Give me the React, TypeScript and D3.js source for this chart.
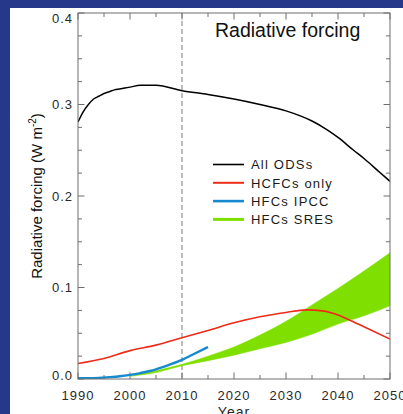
import React from "react";
import * as d3 from "d3";

// values
const odsYears = [1990, 1991, 1992, 1993, 1994, 1995, 1996, 1997, 1998, 2000, 2002, 2004, 2005, 2010, 2015, 2020, 2025, 2030, 2033, 2035, 2038, 2040, 2043, 2045, 2048, 2050];
const odsValues = [0.281, 0.292, 0.3, 0.306, 0.309, 0.312, 0.314, 0.316, 0.317, 0.319, 0.321, 0.321, 0.321, 0.315, 0.311, 0.306, 0.3, 0.293, 0.287, 0.282, 0.272, 0.264, 0.25, 0.241, 0.226, 0.216];

const hcfcYears = [1990, 1995, 2000, 2005, 2010, 2015, 2020, 2025, 2030, 2034, 2037, 2040, 2042, 2045, 2050];
const hcfcValues = [0.017, 0.0225, 0.031, 0.037, 0.045, 0.053, 0.0614, 0.068, 0.0727, 0.0755, 0.0745, 0.07, 0.065, 0.057, 0.0436];

const ipccYears = [1990, 1992, 1994, 1996, 1998, 2000, 2002, 2004, 2006, 2008, 2010, 2012, 2015];
const ipccValues = [0.001, 0.001, 0.0012, 0.002, 0.003, 0.0045, 0.0065, 0.009, 0.0125, 0.0165, 0.021, 0.0265, 0.035];

const sresYears = [2000, 2005, 2010, 2015, 2020, 2025, 2030, 2035, 2040, 2045, 2050];
const sresLow = [0.003, 0.007, 0.0145, 0.02, 0.026, 0.033, 0.04, 0.049, 0.06, 0.069, 0.08];
const sresHigh = [0.003, 0.009, 0.016, 0.025, 0.035, 0.048, 0.063, 0.081, 0.099, 0.118, 0.138];

const yearTicks = [1990, 2000, 2010, 2020, 2030, 2040, 2050];
const valueTicks = [0.0, 0.1, 0.2, 0.3, 0.4];

const legendItems = [
  { label: "All ODSs", color: "#000000", width: 1.6 },
  { label: "HCFCs only", color: "#ee2b17", width: 2 },
  { label: "HFCs IPCC", color: "#1689cf", width: 2.6 },
  { label: "HFCs SRES", color: "#7fe000", width: 3 },
];

const W = 403;
const H = 414;
const left = 78;
const right = 390;
const top = 13;
const bottom = 379;
const font = "'Liberation Sans', Arial, Helvetica, sans-serif";

export default function App() {
  const x = d3.scaleLinear().domain([1990, 2050]).range([left, right]);
  const y = d3.scaleLinear().domain([0, 0.4]).range([bottom, top]);

  const line = (xs: number[], vs: number[]) =>
    d3
      .line<number>()
      .x((_, i) => x(xs[i]))
      .y((d) => y(d))
      .curve(d3.curveMonotoneX)(vs) as string;

  const band = d3
    .area<number>()
    .x((_, i) => x(sresYears[i]))
    .y0((_, i) => y(sresLow[i]))
    .y1((_, i) => y(sresHigh[i]))
    .curve(d3.curveMonotoneX)(sresYears) as string;

  const minorYears = d3.range(1990, 2051, 5);
  const minorVals = d3.range(0, 0.4001, 0.025);
  const axisColor = "#6e6e6e";
  const textColor = "#2a2a2a";

  return (
    <svg
      width={W}
      height={H}
      style={{ position: "fixed", left: 0, top: 0, display: "block" }}
      fontFamily={font}
    >
      <rect x={0} y={0} width={W} height={H} fill="#25388a" />
      <rect x={10} y={8} width={W - 10} height={H - 8} fill="#ffffff" />

      <defs>
        <clipPath id="plot">
          <rect x={left} y={top} width={right - left} height={bottom - top} />
        </clipPath>
      </defs>

      {/* ticks, all drawn inward */}
      {minorYears.map((yr) => {
        const len = yr % 10 === 0 ? 6.5 : 4;
        return (
          <g key={"xt" + yr} stroke={axisColor} strokeWidth={1}>
            <line x1={x(yr)} x2={x(yr)} y1={bottom} y2={bottom - len} />
            <line x1={x(yr)} x2={x(yr)} y1={top} y2={top + len} />
          </g>
        );
      })}
      {minorVals.map((v, i) => {
        const len = i % 4 === 0 ? 6.5 : 4;
        return (
          <g key={"yt" + i} stroke={axisColor} strokeWidth={1}>
            <line x1={left} x2={left + len} y1={y(v)} y2={y(v)} />
            <line x1={right} x2={right - len} y1={y(v)} y2={y(v)} />
          </g>
        );
      })}

      {/* 2010 marker */}
      <line
        x1={x(2010)}
        x2={x(2010)}
        y1={top}
        y2={bottom}
        stroke="#7a7a7a"
        strokeWidth={1}
        strokeDasharray="5,3"
      />

      <g clipPath="url(#plot)">
        <path d={band} fill="#7fe000" stroke="#7fe000" strokeWidth={0.5} />
        <path d={line(hcfcYears, hcfcValues)} fill="none" stroke="#ee2b17" strokeWidth={1.6} />
        <path d={line(ipccYears, ipccValues)} fill="none" stroke="#1689cf" strokeWidth={2.4} />
        <path d={line(odsYears, odsValues)} fill="none" stroke="#000" strokeWidth={1.5} />
      </g>

      <rect
        x={left}
        y={top}
        width={right - left}
        height={bottom - top}
        fill="none"
        stroke={axisColor}
        strokeWidth={1}
      />

      {/* tick labels */}
      {yearTicks.map((yr) => (
        <text
          key={"xl" + yr}
          x={x(yr)}
          y={400}
          fontSize={13}
          letterSpacing={1}
          textAnchor="middle"
          fill={textColor}
        >
          {yr}
        </text>
      ))}
      {valueTicks.map((v) => {
        const cy = Math.max(top + 5, Math.min(bottom - 4, y(v)));
        return (
          <text
            key={"yl" + v}
            x={73}
            y={cy + 4.5}
            fontSize={13}
            letterSpacing={1}
            textAnchor="end"
            fill={textColor}
          >
            {v.toFixed(1)}
          </text>
        );
      })}

      <text x={(left + right) / 2} y={417} fontSize={14} letterSpacing={1} textAnchor="middle" fill={textColor}>
        Year
      </text>
      <text
        transform={`translate(42,${(top + bottom) / 2}) rotate(-90)`}
        fontSize={15}
        textAnchor="middle"
        fill="#111"
      >
        Radiative forcing (W m
        <tspan dy={-6} fontSize={10}>-2</tspan>
        <tspan dy={6}>)</tspan>
      </text>

      <text x={215} y={37} fontSize={19.5} fill="#111">
        Radiative forcing
      </text>

      {legendItems.map((item, i) => {
        const ly = 164.5 + i * 18.3;
        return (
          <g key={item.label}>
            <line x1={213} x2={244} y1={ly} y2={ly} stroke={item.color} strokeWidth={item.width} />
            <text x={251} y={ly + 4.8} fontSize={13} letterSpacing={1.2} fill="#1a1a1a">
              {item.label}
            </text>
          </g>
        );
      })}
    </svg>
  );
}
